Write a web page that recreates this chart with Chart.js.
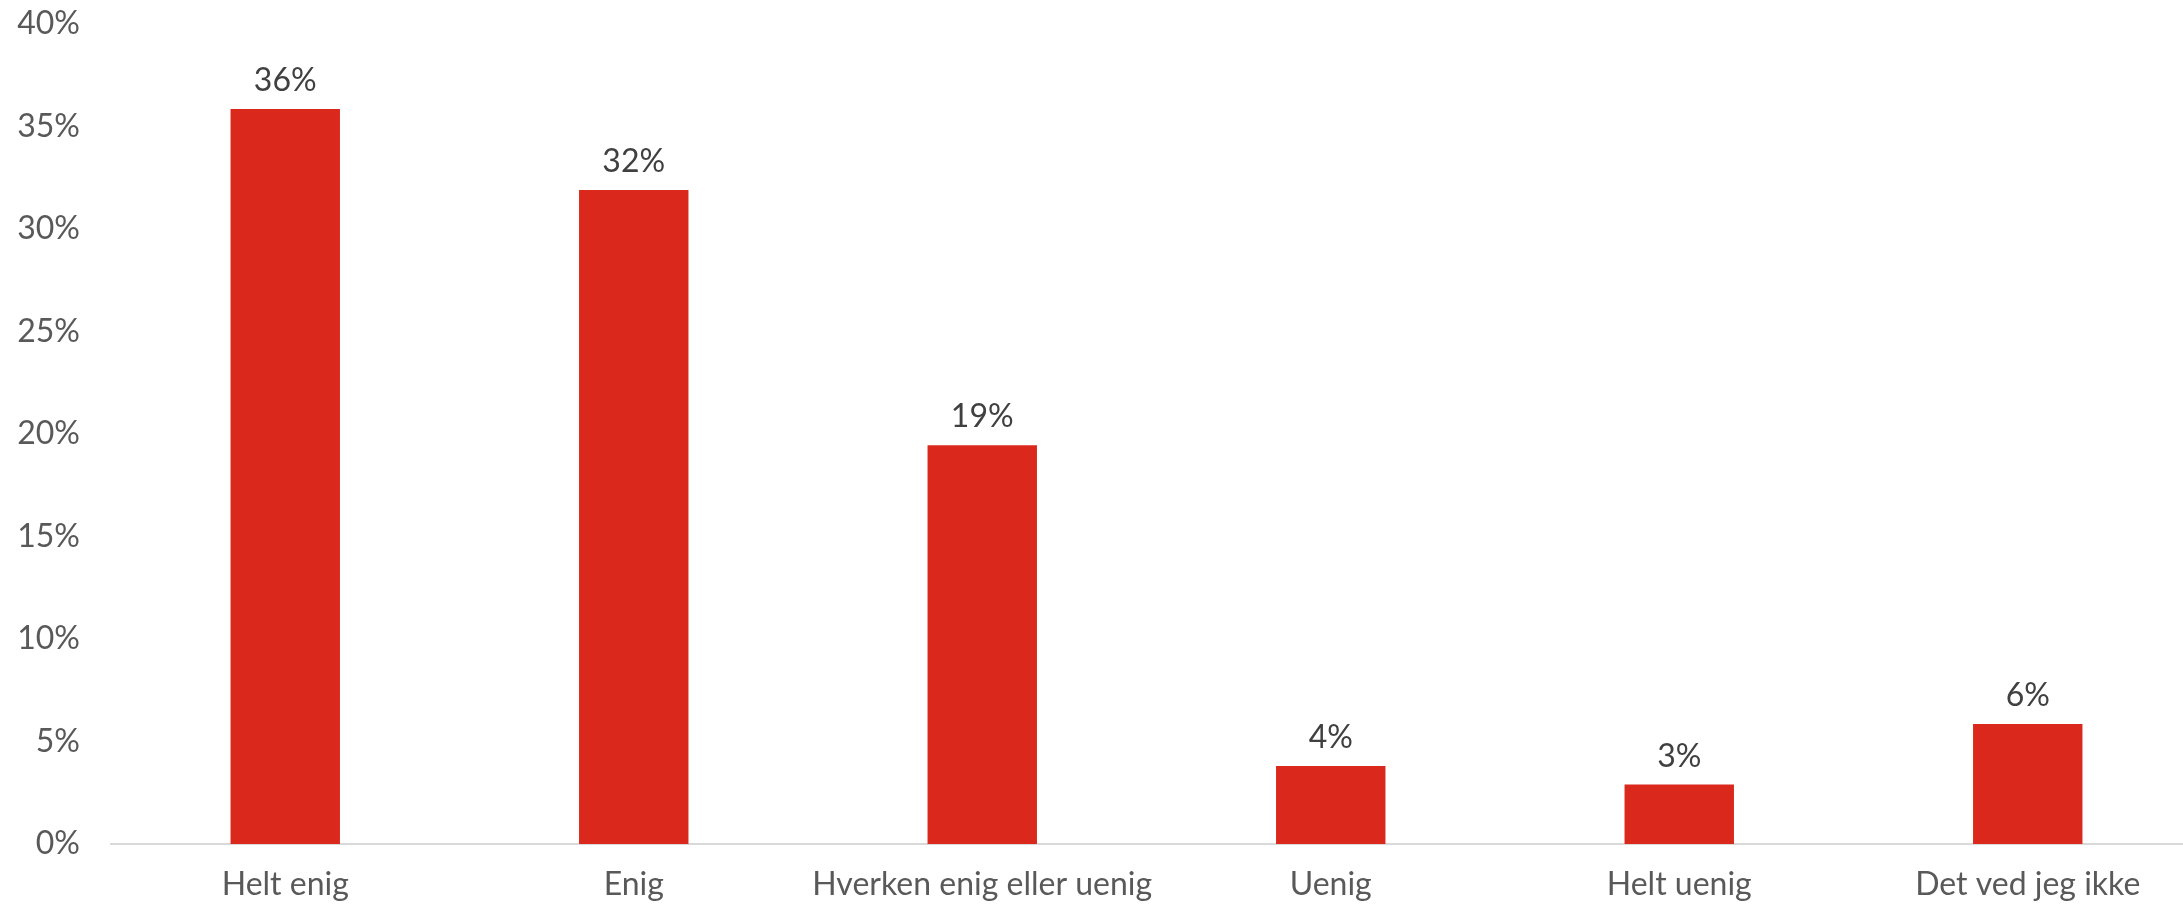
<!DOCTYPE html>
<html>
<head>
<meta charset="utf-8">
<script src="https://cdn.jsdelivr.net/npm/chart.js@4.4.1/dist/chart.umd.min.js"></script>
<style>
  html, body { margin: 0; padding: 0; background: #fff; overflow: hidden; }
  /* plot area runs a bit past the right edge, as in the original */
  #wrap { width: 2183px; height: 904px; overflow: hidden; }
</style>
</head>
<body>
<div id="wrap"><canvas id="chart" width="2202" height="904"></canvas></div>
<script>
const categories = ['Helt enig', 'Enig', 'Hverken enig eller uenig', 'Uenig', 'Helt uenig', 'Det ved jeg ikke']
const values = [35.85, 31.9, 19.45, 3.8, 2.9, 5.85]
const valueLabels = ['36%', '32%', '19%', '4%', '3%', '6%']
const yTicks = [0, 5, 10, 15, 20, 25, 30, 35, 40]

// draws the % label above each bar
const barLabels = {
  id: 'barLabels',
  afterDatasetsDraw(chart) {
    const ctx = chart.ctx
    const meta = chart.getDatasetMeta(0)
    ctx.save()
    ctx.font = '32px Lato'
    ctx.fillStyle = '#404040'
    ctx.textAlign = 'center'
    ctx.textBaseline = 'alphabetic'
    meta.data.forEach((bar, i) => {
      ctx.fillText(valueLabels[i], bar.x, bar.y - 18)
    })
    ctx.restore()
  }
}

new Chart('chart', {
  type: 'bar',
  data: {
    labels: categories,
    datasets: [{
      data: values,
      backgroundColor: '#da291c',
      categoryPercentage: 1,
      barPercentage: 0.314
    }]
  },
  options: {
    responsive: false,
    animation: false,
    layout: { padding: { top: 24, right: 0, bottom: 0, left: 0 } },
    plugins: {
      legend: { display: false },
      tooltip: { enabled: false }
    },
    scales: {
      x: {
        grid: { display: false, drawTicks: false },
        border: { color: '#d9d9d9', width: 2 },
        ticks: { color: '#595959', font: { family: 'Lato', size: 32 }, padding: 21 },
        afterFit: s => { s.height = 60 }
      },
      y: {
        min: 0,
        max: 40,
        afterBuildTicks: s => { s.ticks = yTicks.map(v => ({ value: v })) },
        grid: { display: false, drawTicks: true, tickLength: 31 },
        border: { display: false },
        ticks: {
          color: '#595959',
          font: { family: 'Lato', size: 32 },
          padding: 0,
          callback: v => v + '%'
        },
        afterFit: s => { s.width = 111 }
      }
    }
  },
  plugins: [barLabels]
})
</script>
</body>
</html>
